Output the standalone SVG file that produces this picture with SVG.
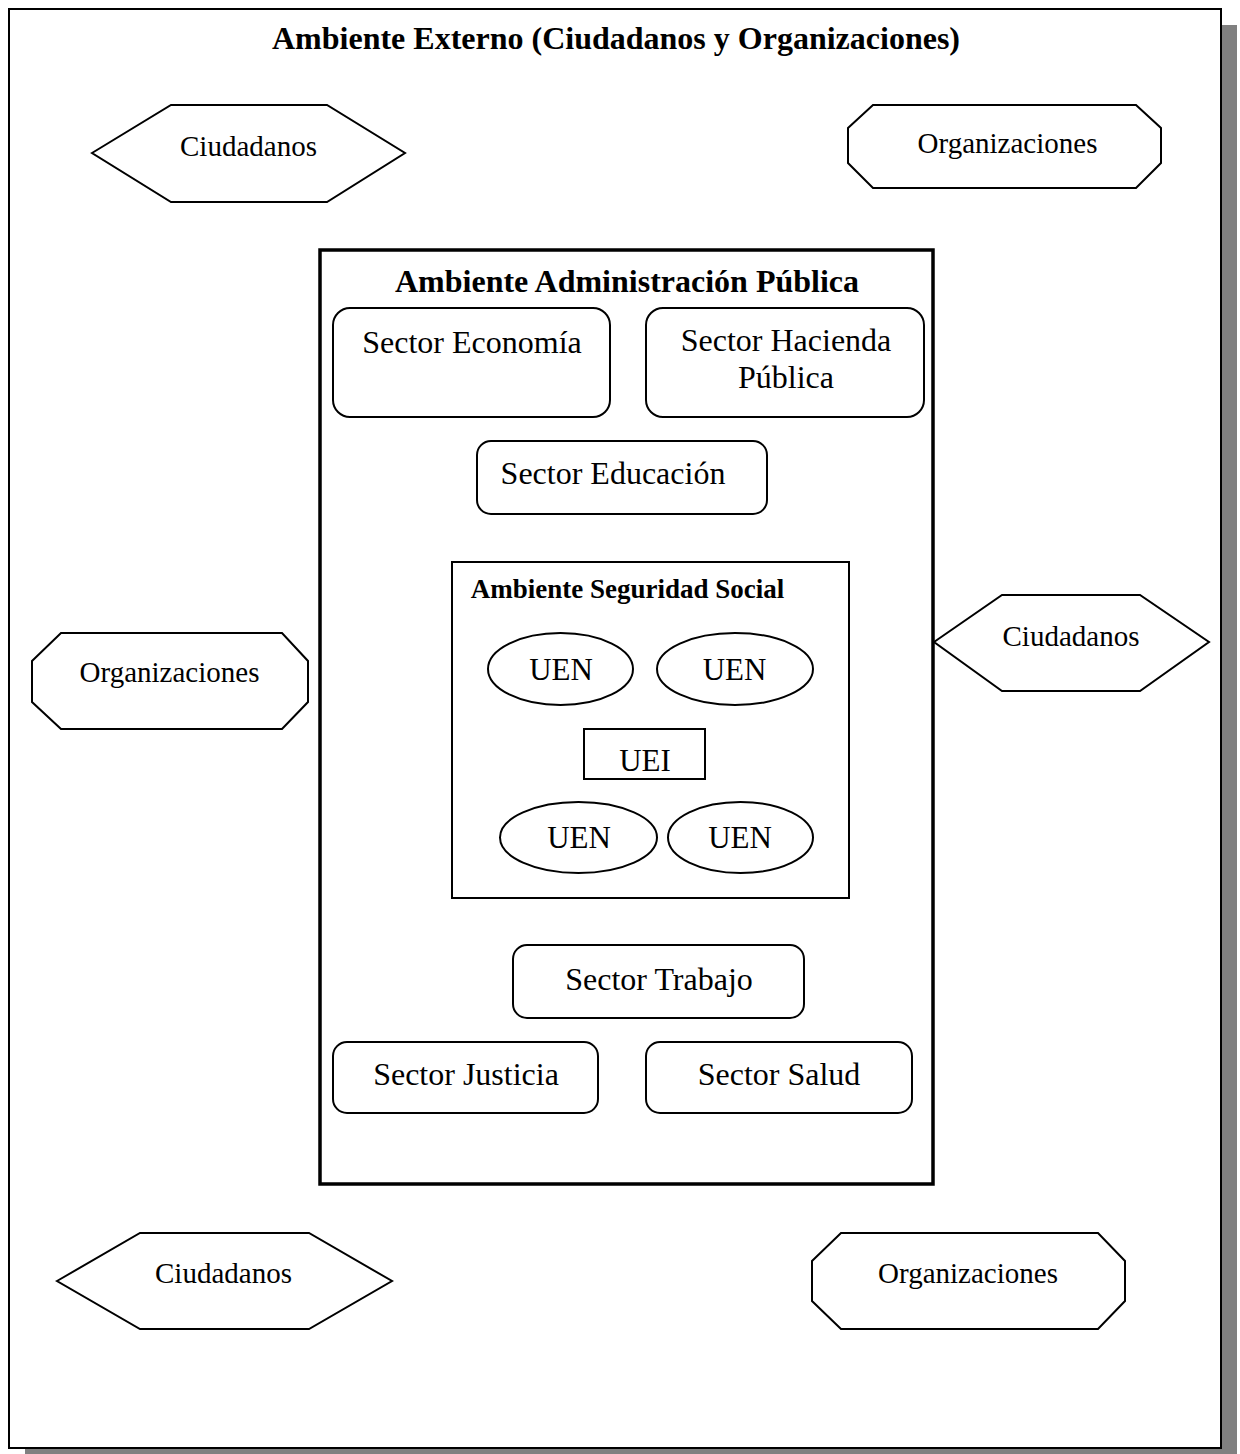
<svg xmlns="http://www.w3.org/2000/svg" width="1240" height="1454" viewBox="0 0 1240 1454">
  <style>
    .frame { fill: #ffffff; stroke: #000000; stroke-width: 2; }
    .shadow { fill: #808080; stroke: none; }
    .shape { fill: #ffffff; stroke: #000000; stroke-width: 2; stroke-linejoin: miter; }
    .env { fill: #ffffff; stroke: #000000; stroke-width: 3.5; }
    .lbl { font-family: "Liberation Serif", "Times New Roman", serif; fill: #000000; text-anchor: middle; }
    .ext { font-size: 29px; }
    .sec { font-size: 32px; }
    .unit { font-size: 31px; }
    .hdr { font-weight: bold; font-size: 32px; }
    .hdr-sm { font-weight: bold; font-size: 27px; }
  </style>

  <!-- outer environment with drop shadow -->
  <g id="ambiente-externo">
    <rect class="shadow" x="25" y="25" width="1212" height="1439"/>
    <rect class="frame" x="9" y="9" width="1212" height="1439"/>
    <text class="lbl hdr" x="616" y="49">Ambiente Externo (Ciudadanos y Organizaciones)</text>
  </g>

  <!-- citizens and organizations around the public administration -->
  <g id="ciudadanos-1">
    <polygon class="shape" points="92,153 171,105 327,105 405,153 327,202 171,202"/>
    <text class="lbl ext" x="248.5" y="156">Ciudadanos</text>
  </g>
  <g id="organizaciones-1">
    <polygon class="shape" points="848,128 873,105 1136,105 1161,128 1161,163 1136,188 873,188 848,163"/>
    <text class="lbl ext" x="1007.5" y="153">Organizaciones</text>
  </g>
  <g id="organizaciones-2">
    <polygon class="shape" points="32,661 61,633 282,633 308,661 308,702 282,729 61,729 32,702"/>
    <text class="lbl ext" x="169.5" y="682">Organizaciones</text>
  </g>
  <g id="ciudadanos-2">
    <polygon class="shape" points="934,642 1002,595 1140,595 1209,642 1140,691 1002,691"/>
    <text class="lbl ext" x="1071" y="646">Ciudadanos</text>
  </g>
  <g id="ciudadanos-3">
    <polygon class="shape" points="57,1281 140,1233 309,1233 392,1281 309,1329 140,1329"/>
    <text class="lbl ext" x="223.5" y="1283">Ciudadanos</text>
  </g>
  <g id="organizaciones-3">
    <polygon class="shape" points="812,1261 841,1233 1098,1233 1125,1261 1125,1301 1098,1329 841,1329 812,1301"/>
    <text class="lbl ext" x="968" y="1283">Organizaciones</text>
  </g>

  <!-- public administration environment -->
  <g id="ambiente-administracion">
    <rect class="env" x="320" y="250" width="613" height="934"/>
    <text class="lbl hdr" x="627" y="292">Ambiente Administración Pública</text>
  </g>

  <g id="sector-economia">
    <rect class="shape" x="333" y="308" width="277" height="109" rx="17" ry="17"/>
    <text class="lbl sec" x="472" y="353">Sector Economía</text>
  </g>
  <g id="sector-hacienda">
    <rect class="shape" x="646" y="308" width="278" height="109" rx="17" ry="17"/>
    <text class="lbl sec" x="786" y="351">Sector Hacienda</text>
    <text class="lbl sec" x="786" y="388">Pública</text>
  </g>
  <g id="sector-educacion">
    <rect class="shape" x="477" y="441" width="290" height="73" rx="14" ry="14"/>
    <text class="lbl sec" x="613" y="484">Sector Educación</text>
  </g>

  <!-- social security environment -->
  <g id="ambiente-seguridad-social">
    <rect class="shape" x="452" y="562" width="397" height="336"/>
    <text class="lbl hdr-sm" x="627.5" y="598">Ambiente Seguridad Social</text>
  </g>
  <g id="uen-1">
    <ellipse class="shape" cx="560.5" cy="669" rx="72.5" ry="36"/>
    <text class="lbl unit" x="561" y="680">UEN</text>
  </g>
  <g id="uen-2">
    <ellipse class="shape" cx="735" cy="669" rx="78" ry="36"/>
    <text class="lbl unit" x="734.5" y="680">UEN</text>
  </g>
  <g id="uei">
    <rect class="shape" x="584" y="729" width="121" height="50"/>
    <text class="lbl unit" x="645" y="771">UEI</text>
  </g>
  <g id="uen-3">
    <ellipse class="shape" cx="578.5" cy="837.5" rx="78.5" ry="35.5"/>
    <text class="lbl unit" x="579" y="848">UEN</text>
  </g>
  <g id="uen-4">
    <ellipse class="shape" cx="740.5" cy="837.5" rx="72.5" ry="35.5"/>
    <text class="lbl unit" x="740" y="848">UEN</text>
  </g>

  <g id="sector-trabajo">
    <rect class="shape" x="513" y="945" width="291" height="73" rx="14" ry="14"/>
    <text class="lbl sec" x="659" y="990">Sector Trabajo</text>
  </g>
  <g id="sector-justicia">
    <rect class="shape" x="333" y="1042" width="265" height="71" rx="14" ry="14"/>
    <text class="lbl sec" x="466" y="1085">Sector Justicia</text>
  </g>
  <g id="sector-salud">
    <rect class="shape" x="646" y="1042" width="266" height="71" rx="14" ry="14"/>
    <text class="lbl sec" x="779" y="1085">Sector Salud</text>
  </g>

  <!-- no connecting lines in this layout -->
  <g id="connectors"/>
</svg>
